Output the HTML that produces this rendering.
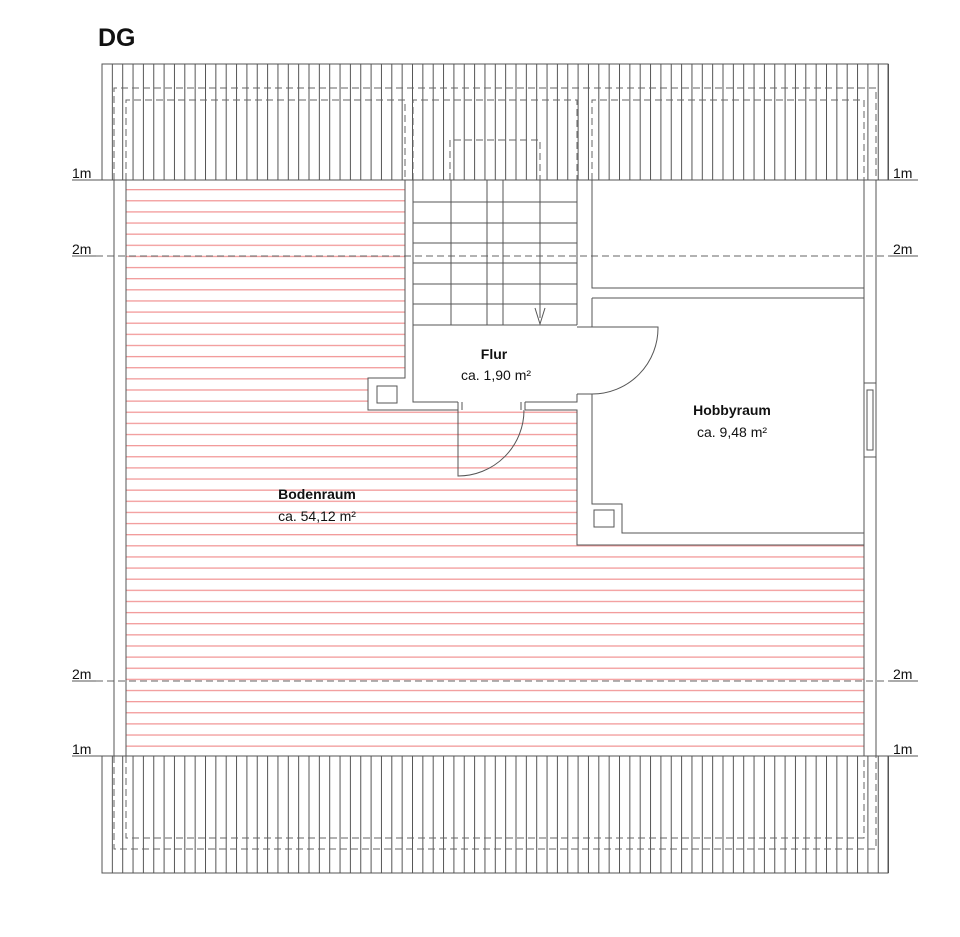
<!DOCTYPE html>
<html><head><meta charset="utf-8"><style>
html,body{margin:0;padding:0;background:#fff;}
svg{display:block;}
text{font-family:"Liberation Sans",Arial,sans-serif;fill:#111;}
</style></head><body>
<svg width="960" height="937" viewBox="0 0 960 937" xmlns="http://www.w3.org/2000/svg">
<defs>
<pattern id="pink" x="0" y="189" width="10" height="11.13" patternUnits="userSpaceOnUse">
<rect x="0" y="0" width="10" height="1.3" fill="#f29a9a"/>
</pattern>
<pattern id="roof" x="101.5" y="0" width="10.35" height="10" patternUnits="userSpaceOnUse">
<rect x="0" y="0" width="1" height="10" fill="#555"/>
</pattern>
</defs>
<text x="98" y="46" font-size="25" font-weight="bold">DG</text>

<!-- pink hatch -->
<rect x="126" y="188" width="738" height="561" fill="url(#pink)"/>
<!-- white rooms -->
<rect x="405" y="180" width="173" height="230" fill="#fff"/>
<rect x="368" y="378" width="45" height="32" fill="#fff"/>
<rect x="577" y="180" width="288" height="365" fill="#fff"/>

<!-- roofs -->
<rect x="102" y="64" width="787" height="116" fill="url(#roof)"/>
<rect x="102" y="756" width="787" height="117" fill="url(#roof)"/>
<g fill="none" stroke="#555" stroke-width="1">
<rect x="102" y="64" width="786" height="116"/>
<rect x="102" y="756" width="786" height="117"/>
</g>
<g fill="none" stroke="#666" stroke-width="1" stroke-dasharray="7,4">
<path d="M114 180 V88 H876 V180"/>
<path d="M126 180 V100 H405 V180"/>
<path d="M413 180 V100 H577 V180"/>
<path d="M592 180 V100 H864 V180"/>
<path d="M450 180 V140 H540 V180"/>
<path d="M114 756 V849 H876 V756"/>
<path d="M126 756 V838 H864 V756"/>
<path d="M96 256 H890"/>
<path d="M96 681 H890"/>
</g>

<g fill="none" stroke="#555" stroke-width="1">
<!-- 1m lines -->
<path d="M72 180 H918 M72 756 H918"/>
<path d="M72 256 H96 M890 256 H918 M72 681 H96 M890 681 H918"/>
<!-- outer walls -->
<path d="M114 180 V756 M126 180 V756 M864 180 V756 M876 180 V756"/>
<!-- stair wall -->
<path d="M405 180 V378 H368 V410 H458 M413 180 V402 H458"/>
<rect x="377" y="386" width="20" height="17"/>
<path d="M525 402 H577 V394 M525 410 H577 V545 H864"/>
<path d="M458 402 V410 M462 402 V410 M525 402 V410 M521 402 V410"/>
<!-- stairs -->
<path d="M413 202 H577 M413 223 H577 M413 243 H577 M413 263 H577 M413 284 H577 M413 304 H577 M413 325 H577"/>
<path d="M451 180 V325 M487 180 V325 M503 180 V325 M540 180 V318"/>
<path d="M535 308 L540 324 L545 308"/>
<path d="M577 180 V325 M592 180 V288 H864 M592 298 H864"/>
<path d="M577 327 H592 V298 M577 394 H592 V402 M592 394 V504 H622 V533 H864"/>
<rect x="594" y="510" width="20" height="17"/>
<!-- doors -->
<path d="M592 327 H658 A66 66 0 0 1 592 394"/>
<path d="M458 410 V476 A66 66 0 0 0 524 410"/>
<!-- window -->
<rect x="864" y="383" width="12" height="74"/>
<rect x="867" y="390" width="6" height="60"/>
</g>

<g font-size="14">
<text x="72" y="178">1m</text><text x="72" y="254">2m</text>
<text x="72" y="679">2m</text><text x="72" y="754">1m</text>
<text x="893" y="178">1m</text><text x="893" y="254">2m</text>
<text x="893" y="679">2m</text><text x="893" y="754">1m</text>
</g>
<g font-size="14" text-anchor="middle">
<text x="494" y="359" font-weight="bold">Flur</text>
<text x="496" y="380">ca. 1,90 m²</text>
<text x="732" y="415" font-weight="bold">Hobbyraum</text>
<text x="732" y="437">ca. 9,48 m²</text>
<text x="317" y="499" font-weight="bold">Bodenraum</text>
<text x="317" y="521">ca. 54,12 m²</text>
</g>
</svg>
</body></html>
